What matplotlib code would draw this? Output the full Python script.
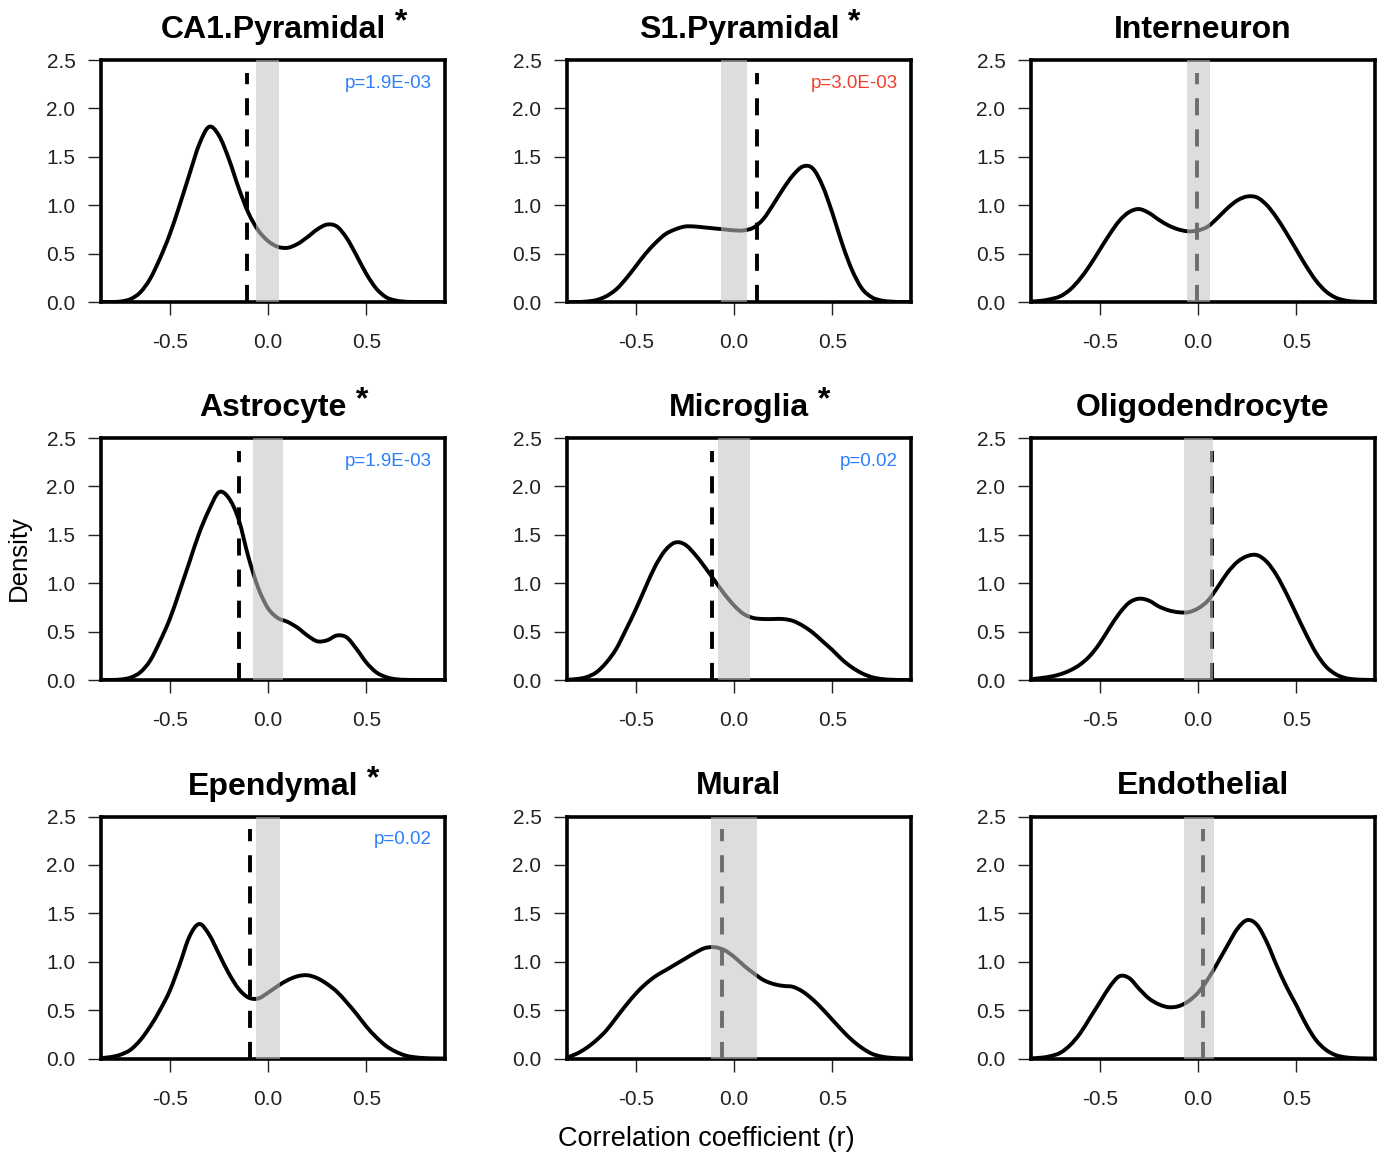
import matplotlib
matplotlib.use("Agg")
import matplotlib.pyplot as plt
from matplotlib.path import Path
from matplotlib.patches import PathPatch

plt.rcParams['font.family'] = ['Liberation Sans', 'DejaVu Sans']

# --- DATA ---
cell_types = ["CA1.Pyramidal", "S1.Pyramidal", "Interneuron",
              "Astrocyte", "Microglia", "Oligodendrocyte",
              "Ependymal", "Mural", "Endothelial"]

significant = [True, True, False, True, True, False, True, False, False]

p_labels = ["p=1.9E-03", "p=3.0E-03", "", "p=1.9E-03", "p=0.02", "", "p=0.02", "", ""]
p_colors = ["#2d7ff9", "#f0402a", None, "#2d7ff9", "#2d7ff9", None, "#2d7ff9", None, None]

# observed correlation (dashed line)
observed_r = [-0.108, 0.116, -0.003, -0.149, -0.114, 0.073, -0.090, -0.063, 0.027]

# null interval (grey band)
band_lo = [-0.059, -0.068, -0.054, -0.079, -0.083, -0.071, -0.063, -0.117, -0.073]
band_hi = [0.054, 0.068, 0.060, 0.078, 0.082, 0.077, 0.060, 0.119, 0.080]

# density curve sample positions
r_grid = [-0.85, -0.80, -0.75, -0.70, -0.65, -0.60, -0.55, -0.50, -0.45, -0.40,
          -0.35, -0.30, -0.25, -0.20, -0.15, -0.10, -0.05, 0.00, 0.05, 0.10,
          0.15, 0.20, 0.25, 0.30, 0.35, 0.40, 0.45, 0.50, 0.55, 0.60,
          0.65, 0.70, 0.75, 0.80, 0.85, 0.90]

dens_ca1 = [0, 0, 0.005, 0.03, 0.10, 0.24, 0.45, 0.70, 1.00, 1.32,
            1.63, 1.81, 1.72, 1.48, 1.18, 0.92, 0.74, 0.63, 0.57, 0.56,
            0.60, 0.67, 0.75, 0.80, 0.78, 0.66, 0.48, 0.29, 0.14, 0.05,
            0.015, 0.003, 0, 0, 0, 0]
dens_s1 = [0, 0, 0.005, 0.02, 0.06, 0.13, 0.24, 0.37, 0.50, 0.61,
           0.70, 0.75, 0.78, 0.78, 0.77, 0.76, 0.75, 0.74, 0.74, 0.77,
           0.86, 1.01, 1.17, 1.31, 1.40, 1.38, 1.20, 0.92, 0.60, 0.33,
           0.14, 0.05, 0.015, 0.004, 0, 0]
dens_inter = [0.005, 0.012, 0.03, 0.06, 0.13, 0.24, 0.38, 0.54, 0.70, 0.84,
              0.93, 0.96, 0.92, 0.85, 0.79, 0.75, 0.73, 0.74, 0.78, 0.87,
              0.97, 1.05, 1.09, 1.08, 1.00, 0.87, 0.71, 0.54, 0.37, 0.22,
              0.11, 0.045, 0.015, 0.004, 0.001, 0]
dens_astro = [0, 0.001, 0.005, 0.025, 0.08, 0.20, 0.40, 0.63, 0.92, 1.22,
              1.52, 1.76, 1.94, 1.88, 1.66, 1.27, 0.95, 0.74, 0.64, 0.60,
              0.54, 0.46, 0.40, 0.41, 0.46, 0.44, 0.32, 0.18, 0.08, 0.03,
              0.008, 0.002, 0, 0, 0, 0]
dens_micro = [0.003, 0.01, 0.03, 0.08, 0.18, 0.32, 0.52, 0.73, 0.96, 1.18,
              1.34, 1.42, 1.40, 1.30, 1.17, 1.03, 0.89, 0.77, 0.68, 0.64,
              0.63, 0.63, 0.63, 0.61, 0.56, 0.49, 0.40, 0.31, 0.21, 0.13,
              0.07, 0.03, 0.01, 0.003, 0, 0]
dens_oligo = [0.008, 0.02, 0.035, 0.06, 0.10, 0.16, 0.25, 0.38, 0.54, 0.69,
              0.80, 0.84, 0.82, 0.76, 0.72, 0.70, 0.70, 0.74, 0.82, 0.96,
              1.11, 1.22, 1.28, 1.29, 1.22, 1.08, 0.89, 0.68, 0.47, 0.28,
              0.14, 0.06, 0.02, 0.006, 0.002, 0]
dens_epend = [0.005, 0.015, 0.04, 0.09, 0.19, 0.33, 0.50, 0.70, 0.97, 1.26,
              1.39, 1.28, 1.08, 0.88, 0.72, 0.63, 0.62, 0.68, 0.75, 0.81,
              0.85, 0.86, 0.83, 0.77, 0.69, 0.58, 0.46, 0.33, 0.22, 0.13,
              0.07, 0.03, 0.012, 0.004, 0.001, 0]
dens_mural = [0.01, 0.05, 0.11, 0.19, 0.29, 0.42, 0.55, 0.67, 0.77, 0.85,
              0.91, 0.97, 1.03, 1.09, 1.14, 1.15, 1.12, 1.05, 0.96, 0.88,
              0.81, 0.77, 0.75, 0.74, 0.69, 0.61, 0.51, 0.40, 0.29, 0.19,
              0.11, 0.05, 0.02, 0.007, 0.002, 0]
dens_endo = [0.002, 0.008, 0.025, 0.06, 0.14, 0.26, 0.42, 0.58, 0.74, 0.85,
             0.83, 0.72, 0.62, 0.56, 0.53, 0.54, 0.59, 0.68, 0.82, 0.99,
             1.17, 1.34, 1.43, 1.38, 1.20, 0.96, 0.74, 0.55, 0.35, 0.19,
             0.09, 0.035, 0.012, 0.004, 0.001, 0]

densities = [dens_ca1, dens_s1, dens_inter, dens_astro, dens_micro,
             dens_oligo, dens_epend, dens_mural, dens_endo]

y_ticks = [0.0, 0.5, 1.0, 1.5, 2.0, 2.5]
y_ticklabels = ["0.0", "0.5", "1.0", "1.5", "2.0", "2.5"]
x_ticks = [-0.5, 0.0, 0.5]
x_ticklabels = ["-0.5", "0.0", "0.5"]


def smooth_path(xs, ys):
    """Catmull-Rom curve through the read points, as cubic Bezier segments."""
    pts = list(zip(xs, ys))
    verts = [pts[0]]
    codes = [Path.MOVETO]
    n = len(pts)
    for k in range(n - 1):
        p0 = pts[max(k - 1, 0)]
        p1 = pts[k]
        p2 = pts[k + 1]
        p3 = pts[min(k + 2, n - 1)]
        c1 = (p1[0] + (p2[0] - p0[0]) / 6, p1[1] + (p2[1] - p0[1]) / 6)
        c2 = (p2[0] - (p3[0] - p1[0]) / 6, p2[1] - (p3[1] - p1[1]) / 6)
        verts += [c1, c2, p2]
        codes += [Path.CURVE4] * 3
    return Path(verts, codes)


# --- LAYOUT (pixels of a 1380x1153 canvas) ---
W, H = 1380, 1153
col_left = [101, 567, 1031]
row_top = [60, 438, 816.5]
ax_w, ax_h = 344, 242

fig = plt.figure(figsize=(W / 100, H / 100), dpi=100)

for i, name in enumerate(cell_types):
    r, c = divmod(i, 3)
    ax = fig.add_axes([col_left[c] / W, (H - row_top[r] - ax_h) / H, ax_w / W, ax_h / H])

    curve = PathPatch(smooth_path(r_grid, densities[i]), facecolor="none",
                      edgecolor="black", lw=2.8, capstyle="round",
                      joinstyle="round", zorder=2)
    ax.add_patch(curve)
    ax.plot([observed_r[i], observed_r[i]], [0, 2.37], color="black", lw=2.8,
            dashes=(4.4, 3.6), zorder=2)
    ax.axvspan(band_lo[i], band_hi[i], color=(0.77, 0.77, 0.77), alpha=0.56,
               lw=0, zorder=3)

    ax.set_xlim(-0.85, 0.90)
    ax.set_ylim(0, 2.5)
    ax.set_xticks(x_ticks)
    ax.set_xticklabels(x_ticklabels)
    ax.set_yticks(y_ticks)
    ax.set_yticklabels(y_ticklabels)
    ax.tick_params(axis="both", direction="out", length=9.4, width=1.0,
                   labelsize=15, colors="#222222")
    ax.tick_params(axis="y", pad=9)
    ax.tick_params(axis="x", pad=13)
    for sp in ax.spines.values():
        sp.set_linewidth(2.6)
        sp.set_color("black")

    t = ax.text(0.5, 1 + 22 / ax_h, name, transform=ax.transAxes, ha="center",
                va="baseline", fontsize=23, fontweight="bold")
    if significant[i]:
        ax.annotate(" *", xy=(1, 0), xycoords=t, xytext=(0, 5),
                    textcoords="offset points", ha="left", va="bottom",
                    fontsize=23, fontweight="bold")
    if p_labels[i]:
        ax.text(0.963, 1 - 23.5 / ax_h, p_labels[i], transform=ax.transAxes,
                ha="right", va="center", fontsize=13.5, color=p_colors[i])

fig.text(19 / W, 1 - 558 / H, "Density", rotation=90, ha="center", va="center",
         fontsize=18.5)
fig.text(706 / W, 1 - 1139 / H, "Correlation coefficient (r)", ha="center",
         va="center", fontsize=19.5)

fig.savefig("out.png", dpi=100, facecolor="white")
